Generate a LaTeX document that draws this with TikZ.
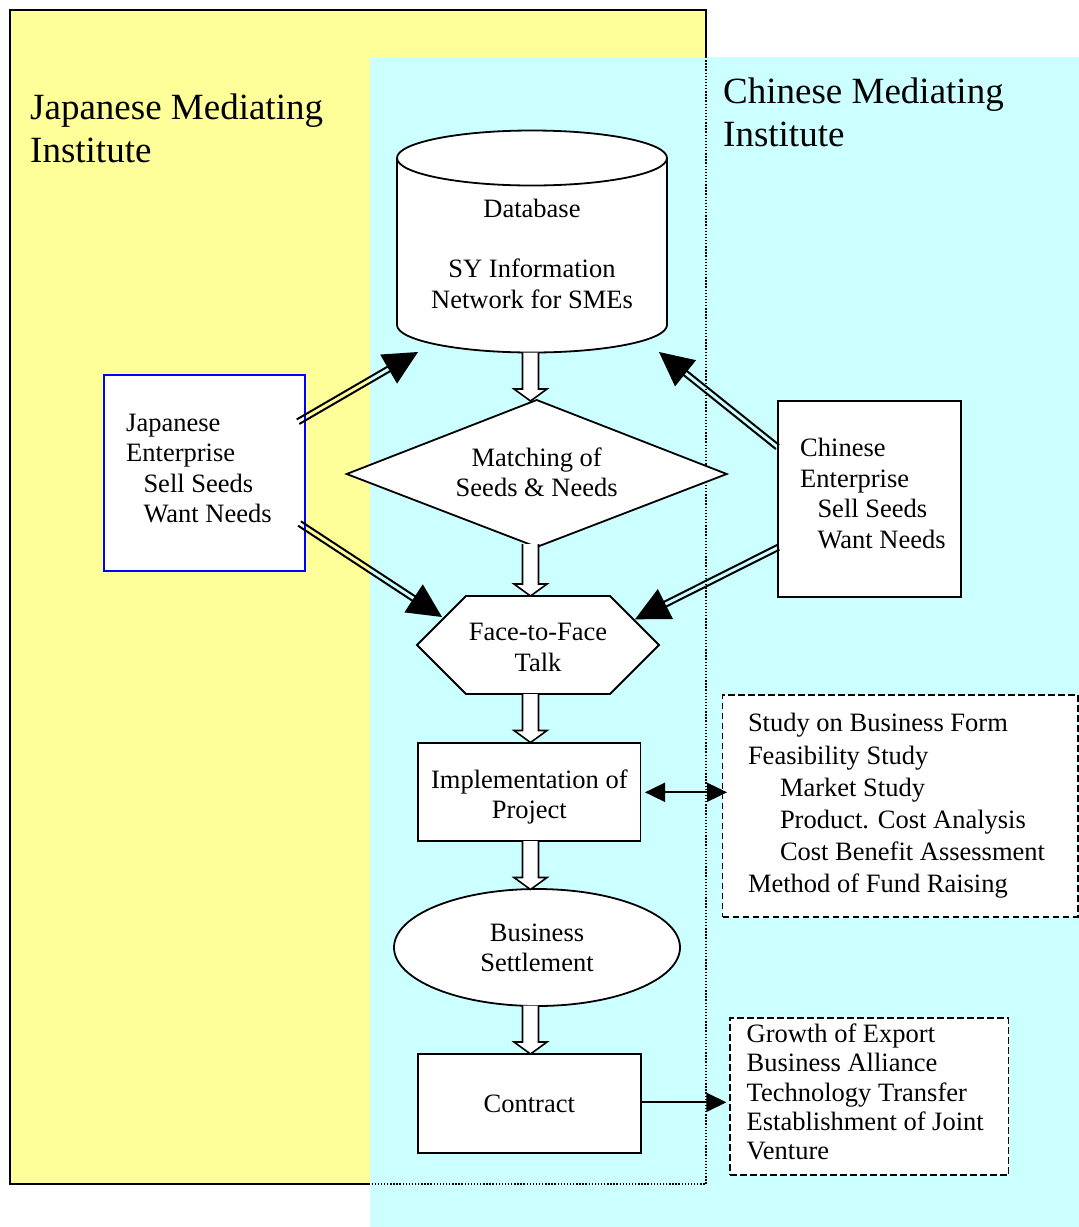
\documentclass[tikz,border=0pt]{standalone}
\usepackage{fontspec}
\setmainfont{Liberation Serif}
\usetikzlibrary{arrows.meta,calc}

\definecolor{jpyellow}{RGB}{255,255,153}
\definecolor{cnteal}{RGB}{204,255,255}
\definecolor{boxblue}{RGB}{0,0,255}

\tikzset{
  body/.style={font=\fontsize{26.5}{30.5}\selectfont, inner sep=0pt},
  titletext/.style={font=\fontsize{37}{43.5}\selectfont, inner sep=0pt, align=left, anchor=west},
  outline/.style={draw=black, line width=1.8pt, line join=miter},
  flowbox/.style={outline, fill=white, inner sep=0pt},
  notebox/.style={draw=black, line width=1.7pt, dash pattern=on 6.5pt off 3.5pt, fill=white, inner sep=0pt},
  entbox/.style={fill=white, line width=1.8pt, inner sep=0pt},
  pointer/.style={line width=1.8pt, -{Triangle[length=20pt,width=19pt]}},
  twoway/.style={line width=1.8pt, {Triangle[length=20pt,width=19pt]}-{Triangle[length=20pt,width=19pt]}},
  rail/.style={line width=2pt},
  borderdots/.style={line width=1.4pt, dash pattern=on 1.4pt off 1.7pt},
}

% double-line arrow with a large solid head, from #1 to #2
\newcommand{\railarrow}[2]{%
  \coordinate (rb) at ($(#2)!34pt!(#1)$);
  \draw[rail, shorten >=30pt] ($(#1)!2.6pt!90:(#2)$) -- ($(#2)!2.6pt!-90:(#1)$);
  \draw[rail, shorten >=30pt] ($(#1)!2.6pt!-90:(#2)$) -- ($(#2)!2.6pt!90:(#1)$);
  \fill (#2) -- ($(rb)!16.8pt!90:(#2)$) -- ($(rb)!16.8pt!-90:(#2)$) -- cycle;
}

% hollow block arrow pointing down, from #1 to #2
\newcommand{\hollowarrow}[2]{%
  \draw[line width=1.6pt, fill=white, line join=miter] let \p1=(#1), \p2=(#2) in
    (\x1-8pt,\y1) -- (\x1-8pt,\y2+12pt) -- (\x1-16.5pt,\y2+12pt) -- (\x2,\y2)
    -- (\x1+16.5pt,\y2+12pt) -- (\x1+8pt,\y2+12pt) -- (\x1+8pt,\y1);
}

\begin{document}
\begin{tikzpicture}[x=1pt,y=-1pt]
\useasboundingbox (0,0) rectangle (1079,1227);

% institute areas
\fill[jpyellow] (10,10) rectangle (706,1184);
\draw[line width=1.8pt] (370,1184) -- (10,1184) -- (10,10) -- (706,10) -- (706,57);
\fill[cnteal] (370,57) rectangle (1079,1227);
\draw[borderdots] (706,57) -- (706,1184) -- (370,1184);

\node[titletext] (jmi) at (30,128.3) {Japanese Mediating\\Institute};
\node[titletext] (cmi) at (723,112.3) {Chinese Mediating\\Institute};

% database cylinder
\draw[outline, fill=white] (397,158) -- (397,325)
  arc[start angle=180, end angle=0, x radius=135, y radius=27.5] -- (667,158)
  arc[start angle=0, end angle=-180, x radius=135, y radius=27.5] -- cycle;
\draw[outline] (397,158) arc[start angle=180, end angle=0, x radius=135, y radius=27.5];
\node[body, align=center] (db) at (532,253.6) {Database\\[30pt]SY Information\\Network for SMEs};
\coordinate (db-s) at (530.5,352.5);
\coordinate (db-sw) at (418,352);
\coordinate (db-se) at (659,352);

% matching diamond
\coordinate (match-w) at (346.7,474);
\coordinate (match-n) at (536.7,400);
\coordinate (match-e) at (726.7,474);
\coordinate (match-s) at (536.7,547);
\draw[outline, fill=white] (match-w) -- (match-n) -- (match-e) -- (match-s) -- cycle;
\node[body, align=center] (match) at (536.7,472.5) {Matching of\\Seeds \& Needs};

% face-to-face hexagon
\coordinate (talk-w) at (417,645);
\coordinate (talk-e) at (659,645);
\draw[outline, fill=white] (talk-w) -- (466,596) -- (610,596) -- (talk-e) -- (610,694) -- (466,694) -- cycle;
\node[body, align=center] (talk) at (538,647.5) {Face-to-Face\\Talk};
\coordinate (talk-nw) at (442,617);
\coordinate (talk-ne) at (635,619.3);

% implementation
\node[flowbox, minimum width=222.2pt, minimum height=98.3pt] (impl) at (529.3,791.9) {};
\node[body, align=center] (impl-t) at (529.3,797.2) {Implementation of\\Project};

% business settlement
\draw[outline, fill=white] (537,947.5) ellipse [x radius=143, y radius=58.5];
\node[body, align=center] (settle) at (537,948) {Business\\Settlement};

% contract
\node[flowbox, body, minimum width=223pt, minimum height=98.7pt] (contract) at (529.3,1103.4) {Contract};

% enterprises
\node[entbox, draw=boxblue, minimum width=201pt, minimum height=195.7pt] (jpe) at (204.5,472.85) {};
\node[body, align=left, anchor=west] (jpe-t) at (126,468.7)
  {Japanese\\Enterprise\\\hspace*{17.3pt}Sell Seeds\\\hspace*{17.3pt}Want Needs};
\node[entbox, draw=black, minimum width=182.7pt, minimum height=196pt] (cne) at (869.65,498.7) {};
\node[body, align=left, anchor=west] (cne-t) at (800,493.5)
  {Chinese\\Enterprise\\\hspace*{17.3pt}Sell Seeds\\\hspace*{17.3pt}Want Needs};
\coordinate (jpe-up) at (298,421.7);
\coordinate (jpe-dn) at (299.5,523.5);
\coordinate (cne-up) at (777.5,447);
\coordinate (cne-dn) at (778.3,547.3);

% study notes
\node[notebox, minimum width=355.2pt, minimum height=221.7pt] (study-box) at (900.2,805.85) {};
\node[body, font=\fontsize{26.5}{32.1}\selectfont, align=left, anchor=west] (study) at (747.8,805.9)
  {Study on Business Form\\Feasibility Study\\\hspace*{32pt}Market Study\\\hspace*{32pt}Product. Cost Analysis\\\hspace*{32pt}Cost Benefit Assessment\\Method of Fund Raising};
\coordinate (impl-r) at (645,792.3);
\coordinate (study-l) at (727,792.3);

% outcome notes
\node[notebox, minimum width=278.6pt, minimum height=156.7pt] (outcome-box) at (869.3,1096.65) {};
\node[body, font=\fontsize{26.5}{29.15}\selectfont, align=left, anchor=west] (outcome) at (746.5,1092)
  {Growth of Export\\Business Alliance\\Technology Transfer\\Establishment of Joint\\Venture};
\coordinate (contract-r) at (640.8,1102.3);
\coordinate (outcome-l) at (726.4,1102.3);

% flow arrows
\coordinate (a1e) at (530.5,401);
\coordinate (a2s) at (530.5,544);
\coordinate (a2e) at (530.5,596);
\coordinate (a3s) at (530.5,694);
\coordinate (a3e) at (530.5,742.5);
\coordinate (a4s) at (530.5,841);
\coordinate (a4e) at (530.5,889.5);
\coordinate (a5s) at (530.5,1005.5);
\coordinate (a5e) at (530.5,1054);
\hollowarrow{db-s}{a1e}
\hollowarrow{a2s}{a2e}
\hollowarrow{a3s}{a3e}
\hollowarrow{a4s}{a4e}
\hollowarrow{a5s}{a5e}

\railarrow{jpe-up}{db-sw}
\railarrow{jpe-dn}{talk-nw}
\railarrow{cne-up}{db-se}
\railarrow{cne-dn}{talk-ne}

\draw[twoway] (impl-r) -- (study-l);
\draw[pointer] (contract-r) -- (outcome-l);
\end{tikzpicture}
\end{document}
